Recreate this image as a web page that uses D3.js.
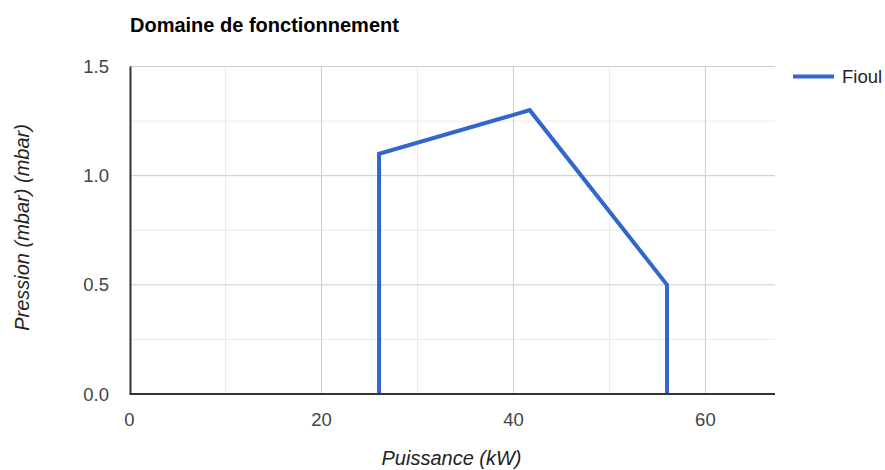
<!DOCTYPE html>
<html><head><meta charset="utf-8">
<script src="https://cdn.jsdelivr.net/npm/d3@7"></script>
<style>body{margin:0;background:#fff;}svg{display:block;font-family:"Liberation Sans",Arial,sans-serif;}</style>
</head><body>
<script>
const seriesName = "Fioul";
const xValues = [26, 26, 41.7, 56, 56];
const yValues = [0, 1.1, 1.3, 0.5, 0];
const xTicks = [0, 20, 40, 60];
const xMinor = [10, 30, 50];
const yTicks = [0, 0.5, 1.0, 1.5];
const yMinor = [0.25, 0.75, 1.25];

const W = 885, H = 470;
const svg = d3.select("body").append("svg").attr("width", W).attr("height", H);
const xMax = 67.25;
const x = d3.scaleLinear().domain([0, xMax]).range([129.5, 775]);
const y = d3.scaleLinear().domain([0, 1.5]).range([394, 66.5]);

const g = svg.append("g");
g.selectAll(".xm").data(xMinor).enter().append("line")
  .attr("x1", d => x(d)).attr("x2", d => x(d)).attr("y1", y(1.5)).attr("y2", y(0))
  .attr("stroke", "#ebebeb").attr("stroke-width", 1);
g.selectAll(".ym").data(yMinor).enter().append("line")
  .attr("y1", d => y(d)).attr("y2", d => y(d)).attr("x1", x(0)).attr("x2", x(xMax))
  .attr("stroke", "#ebebeb").attr("stroke-width", 1);
g.selectAll(".xM").data(xTicks.filter(d => d > 0)).enter().append("line")
  .attr("x1", d => x(d)).attr("x2", d => x(d)).attr("y1", y(1.5)).attr("y2", y(0))
  .attr("stroke", "#cccccc").attr("stroke-width", 1);
g.selectAll(".yM").data(yTicks.filter(d => d > 0)).enter().append("line")
  .attr("y1", d => y(d)).attr("y2", d => y(d)).attr("x1", x(0)).attr("x2", x(xMax))
  .attr("stroke", "#cccccc").attr("stroke-width", 1);

// tick labels
g.selectAll(".xl").data(xTicks).enter().append("text")
  .attr("x", d => x(d)).attr("y", 426).attr("text-anchor", "middle")
  .attr("font-size", 18.5).attr("fill", "#444").text(d => d);
g.selectAll(".yl").data(yTicks).enter().append("text")
  .attr("x", 109).attr("y", d => y(d) + 6.5).attr("text-anchor", "end")
  .attr("font-size", 18.5).attr("fill", "#444").text(d => d.toFixed(1));

// series line
const pts = xValues.map((v, i) => [v, yValues[i]]);
g.append("path").datum(pts)
  .attr("d", d3.line().x(d => x(d[0])).y(d => y(d[1])))
  .attr("fill", "none").attr("stroke", "#3366cc").attr("stroke-width", 4)
  .attr("stroke-linejoin", "miter");

// axes baselines
g.append("line").attr("x1", x(0) + 1).attr("x2", x(0) + 1).attr("y1", y(1.5)).attr("y2", y(0))
  .attr("stroke", "#333").attr("stroke-width", 2);
g.append("line").attr("x1", x(0)).attr("x2", x(xMax)).attr("y1", y(0)).attr("y2", y(0))
  .attr("stroke", "#333").attr("stroke-width", 2);

// title
svg.append("text").attr("x", 130).attr("y", 32).attr("font-size", 20).attr("font-weight", "bold")
  .attr("fill", "#000").text("Domaine de fonctionnement");

// axis titles
svg.append("text").attr("x", 451.5).attr("y", 465).attr("text-anchor", "middle")
  .attr("font-size", 20).attr("font-style", "italic").attr("fill", "#222").text("Puissance (kW)");
svg.append("text").attr("transform", "translate(29,227.5) rotate(-90)").attr("text-anchor", "middle")
  .attr("font-size", 20).attr("font-style", "italic").attr("fill", "#222").text("Pression (mbar) (mbar)");

// legend
svg.append("line").attr("x1", 793).attr("x2", 834).attr("y1", 76.5).attr("y2", 76.5)
  .attr("stroke", "#3366cc").attr("stroke-width", 4);
svg.append("text").attr("x", 842).attr("y", 83).attr("font-size", 18.5).attr("fill", "#222").text(seriesName);
</script>
</body></html>
